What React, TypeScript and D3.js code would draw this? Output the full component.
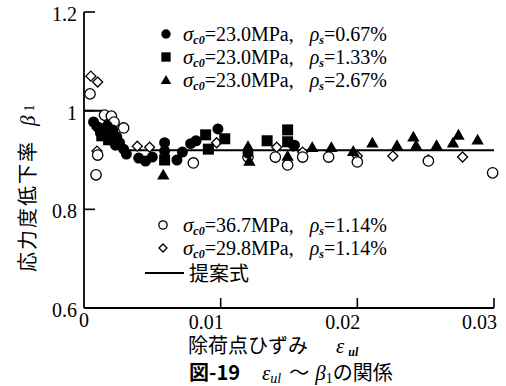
import React from "react";
import * as d3 from "d3";

// ---- data ----
const seriesA_eps = [0.0007, 0.001, 0.0012, 0.0017, 0.0019, 0.0021, 0.0023, 0.0024, 0.0026, 0.0029, 0.0031, 0.004, 0.0045, 0.005, 0.0059, 0.0059, 0.0068, 0.0072, 0.0078, 0.0082, 0.0098, 0.012, 0.0154];
const seriesA_beta = [0.977, 0.967, 0.955, 0.969, 0.955, 0.961, 0.93, 0.947, 0.935, 0.922, 0.912, 0.904, 0.898, 0.906, 0.935, 0.918, 0.9, 0.916, 0.933, 0.939, 0.963, 0.914, 0.93];

const seriesB_eps = [0.0013, 0.0018, 0.0059, 0.0089, 0.0091, 0.0103, 0.0134, 0.0149, 0.0149];
const seriesB_beta = [0.949, 0.941, 0.9, 0.951, 0.922, 0.943, 0.939, 0.961, 0.937];

const seriesC_eps = [0.0058, 0.012, 0.0121, 0.0149, 0.0167, 0.0181, 0.0197, 0.0211, 0.0229, 0.0241, 0.0243, 0.0258, 0.027, 0.0274, 0.0288];
const seriesC_beta = [0.87, 0.928, 0.898, 0.908, 0.926, 0.926, 0.918, 0.935, 0.93, 0.947, 0.93, 0.93, 0.935, 0.951, 0.941];

const seriesD_eps = [0.00044, 0.001, 0.00088, 0.0015, 0.002, 0.0022, 0.0029, 0.008, 0.012, 0.014, 0.0149, 0.016, 0.0179, 0.02, 0.0252, 0.0299];
const seriesD_beta = [1.034, 0.91, 0.87, 0.991, 0.989, 0.977, 0.965, 0.894, 0.906, 0.906, 0.89, 0.906, 0.906, 0.896, 0.898, 0.874];

const seriesE_eps = [0.0005, 0.001, 0.00095, 0.00095, 0.0015, 0.0039, 0.0048, 0.0097, 0.0141, 0.0153, 0.016, 0.02, 0.0226, 0.0252, 0.0277];
const seriesE_beta = [1.07, 1.058, 0.918, 0.965, 0.989, 0.928, 0.926, 0.935, 0.926, 0.928, 0.916, 0.908, 0.908, 0.9, 0.906];

const proposal_eps = [0, 0.0013, 0.0031, 0.03];
const proposal_beta = [1.0, 1.0, 0.92, 0.92];

const xTicks = [0, 0.01, 0.02, 0.03];
const xTickLabels = ["0", "0.01", "0.02", "0.03"];
const yTicks = [0.6, 0.8, 1.0, 1.2];
const yTickLabels = ["0.6", "0.8", "1", "1.2"];

const legendTop = [
  { sigma: "=23.0MPa,", rho: "=0.67%", shape: "circle" },
  { sigma: "=23.0MPa,", rho: "=1.33%", shape: "square" },
  { sigma: "=23.0MPa,", rho: "=2.67%", shape: "triangle" },
];
const legendBottom = [
  { sigma: "=36.7MPa,", rho: "=1.14%", shape: "ocircle" },
  { sigma: "=29.8MPa,", rho: "=1.14%", shape: "diamond" },
];

const SERIF = "'Liberation Serif', 'DejaVu Serif', serif";
const CJK = "'Noto Sans CJK JP', sans-serif";

function zip(a: number[], b: number[]) {
  return a.map((v, i) => [v, b[i]] as [number, number]);
}

function Marker({ shape, x, y, s = 1 }: { shape: string; x: number; y: number; s?: number }) {
  if (shape === "circle") return <circle cx={x} cy={y} r={5.5 * s} fill="#000" />;
  if (shape === "square") {
    const h = 5.5 * s;
    return <rect x={x - h} y={y - h} width={2 * h} height={2 * h} fill="#000" />;
  }
  if (shape === "triangle") {
    const w = 6.2 * s;
    return <path d={`M${x},${y - 6 * s}L${x + w},${y + 4.8 * s}L${x - w},${y + 4.8 * s}Z`} fill="#000" />;
  }
  if (shape === "ocircle") return <circle cx={x} cy={y} r={5.2 * s} fill="#fff" stroke="#000" strokeWidth={1.3} />;
  const d = 5 * s;
  return <path d={`M${x},${y - d}L${x + d},${y}L${x},${y + d}L${x - d},${y}Z`} fill="#fff" stroke="#000" strokeWidth={1.3} />;
}

function LegendText({ x, y, sigma, rho }: { x: number; y: number; sigma: string; rho: string }) {
  return (
    <text x={x} y={y} fontFamily={SERIF} fontSize={20} fill="#000">
      <tspan fontStyle="italic" fontSize={21}>σ</tspan>
      <tspan fontStyle="italic" fontWeight="bold" fontSize={12} dy={3}>c0</tspan>
      <tspan dy={-3}>{sigma}</tspan>
      <tspan fontStyle="italic" dx={16}>ρ</tspan>
      <tspan fontStyle="italic" fontWeight="bold" fontSize={12} dy={3}>s</tspan>
      <tspan dy={-3}>{rho}</tspan>
    </text>
  );
}

export default function App() {
  const W = 506, H = 386;
  const x = d3.scaleLinear().domain([0, 0.03]).range([84, 494]);
  const y = d3.scaleLinear().domain([0.6, 1.2]).range([308, 12]);
  const line = d3.line<[number, number]>().x((d) => x(d[0])).y((d) => y(d[1]));

  const A = zip(seriesA_eps, seriesA_beta);
  const B = zip(seriesB_eps, seriesB_beta);
  const C = zip(seriesC_eps, seriesC_beta);
  const D = zip(seriesD_eps, seriesD_beta);
  const E = zip(seriesE_eps, seriesE_beta);

  return (
    <svg width={W} height={H} style={{ position: "absolute", left: 0, top: 0, background: "#fff" }}>
      <rect width={W} height={H} fill="#fff" />
      {/* axes */}
      <line x1={x(0)} x2={x(0)} y1={y(1.2)} y2={y(0.6)} stroke="#000" strokeWidth={1.8} />
      <line x1={x(0)} x2={x(0.03)} y1={y(0.6)} y2={y(0.6)} stroke="#000" strokeWidth={1.8} />
      {yTicks.map((t, i) => (
        <g key={"y" + i}>
          {t > 0.6 && <line x1={x(0)} x2={x(0) + 11} y1={y(t)} y2={y(t)} stroke="#000" strokeWidth={1.6} />}
          <text x={77} y={y(t) + 9} textAnchor="end" fontFamily={SERIF} fontSize={20}>{yTickLabels[i]}</text>
        </g>
      ))}
      {xTicks.map((t, i) => (
        <g key={"x" + i}>
          {t > 0 && <line x1={x(t)} x2={x(t)} y1={y(0.6)} y2={y(0.6) - 10} stroke="#000" strokeWidth={1.6} />}
          <text x={t === 0 ? x(t) : x(t) + 3} y={t === 0 ? 327 : 329} textAnchor={t === 0 ? "middle" : "end"} fontFamily={SERIF} fontSize={20}>{xTickLabels[i]}</text>
        </g>
      ))}

      {/* proposal line */}
      <path d={line(zip(proposal_eps, proposal_beta)) || ""} fill="none" stroke="#000" strokeWidth={2} />

      {/* data */}
      {E.map((d, i) => <Marker key={"e" + i} shape="diamond" x={x(d[0])} y={y(d[1])} />)}
      {D.map((d, i) => <Marker key={"d" + i} shape="ocircle" x={x(d[0])} y={y(d[1])} />)}
      {A.map((d, i) => <Marker key={"a" + i} shape="circle" x={x(d[0])} y={y(d[1])} />)}
      {B.map((d, i) => <Marker key={"b" + i} shape="square" x={x(d[0])} y={y(d[1])} />)}
      {C.map((d, i) => <Marker key={"c" + i} shape="triangle" x={x(d[0])} y={y(d[1])} />)}

      {/* legends */}
      {legendTop.map((l, i) => (
        <g key={"lt" + i}>
          <Marker shape={l.shape} x={166} y={34 + i * 23} s={0.85} />
          <LegendText x={183} y={41 + i * 23} sigma={l.sigma} rho={l.rho} />
        </g>
      ))}
      {legendBottom.map((l, i) => (
        <g key={"lb" + i}>
          <Marker shape={l.shape} x={163} y={225 + i * 23} s={0.8} />
          <LegendText x={183} y={232 + i * 23} sigma={l.sigma} rho={l.rho} />
        </g>
      ))}
      <line x1={145} x2={184} y1={273} y2={273} stroke="#000" strokeWidth={2} />
      <text x={189} y={281} fontFamily={CJK} fontSize={20}>提案式</text>

      {/* y axis title */}
      <text transform="translate(35,272) rotate(-90)" fontSize={20} fontFamily={CJK} letterSpacing={2}>
        応力度低下率
        <tspan dx={14} fontFamily={SERIF} fontStyle="italic" fontSize={21} letterSpacing={0}>β</tspan>
        <tspan dx={4} dy={-1} fontFamily={SERIF} fontSize={14} letterSpacing={0}>1</tspan>
      </text>

      {/* x axis title */}
      <text x={188} y={353} fontSize={20} fontFamily={CJK}>
        除荷点ひずみ
        <tspan dx={28} fontFamily={SERIF} fontStyle="italic" fontSize={21}>ε</tspan>
        <tspan dx={4} dy={3} fontFamily={SERIF} fontStyle="italic" fontWeight="bold" fontSize={12}>ul</tspan>
      </text>

      {/* caption */}
      <text x={189} y={380} fontSize={20}>
        <tspan fontFamily={CJK} fontWeight="bold">図-19</tspan>
        <tspan dx={22} fontFamily={SERIF} fontStyle="italic" fontSize={21}>ε</tspan>
        <tspan fontFamily={SERIF} fontStyle="italic" fontSize={14} dy={3}>ul</tspan>
        <tspan dx={8} dy={-3} fontFamily={CJK}>～</tspan>
        <tspan dx={6} fontFamily={SERIF} fontStyle="italic" fontSize={21}>β</tspan>
        <tspan fontFamily={SERIF} fontSize={14} dy={3}>1</tspan>
        <tspan dy={-3} fontFamily={CJK}>の関係</tspan>
      </text>
    </svg>
  );
}
